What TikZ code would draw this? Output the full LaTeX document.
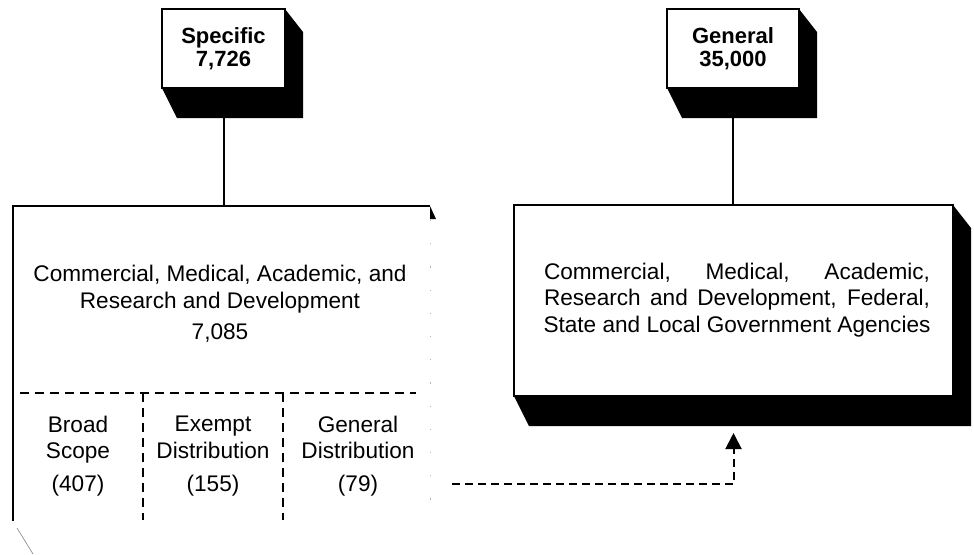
\documentclass[tikz,border=0pt]{standalone}
\usepackage{fontspec}
\setmainfont{Liberation Sans}
\usetikzlibrary{calc,arrows.meta}
% slanted black shade under a box
\newcommand{\dropshade}[1]{%
  \fill (#1.south west) -- ($(#1.south west)+(15,30)$) -- ($(#1.south east)+(18,30)$)
    -- ($(#1.north east)+(18,23)$) -- (#1.north east) -- (#1.south east) -- cycle;}
\begin{document}
\begin{tikzpicture}[x=0.5pt,y=-0.5pt,
  topbox/.style={draw,fill=white,line width=0.6pt,inner sep=0pt,outer sep=0pt,
    minimum width=61.5pt,minimum height=39.5pt,align=center,
    font=\fontsize{11}{11.5}\selectfont\bfseries},
  txt/.style={inner sep=0pt,align=center,font=\fontsize{11.3}{13.3}\selectfont},
  part/.style={dash pattern=on 4.5pt off 3pt,line width=1pt},
  flow/.style={dash pattern=on 4pt off 2.5pt,line width=1pt,-{Triangle[width=8pt,length=8pt]}}]
  \useasboundingbox (0,0) rectangle (974,554);
  % upper boxes
  \node[topbox] (specific) at (223.5,48.5) {Specific\\7,726};
  \node[topbox,minimum width=66pt] (general) at (733,48.5) {General\\35,000};
  % lower boxes
  \node[inner sep=0pt,outer sep=0pt,minimum width=208.5pt,minimum height=157.5pt] (spec) at (221.5,363.5) {};
  \node[draw,fill=white,line width=0.6pt,inner sep=0pt,outer sep=0pt,minimum width=219.5pt,minimum height=95.5pt] (big) at (733.5,300.5) {};
  % connectors
  \draw[line width=1pt] (specific.south) -- (specific.south |- spec.north);
  \draw[line width=1pt] (general.south) -- (general.south |- big.north);
  \dropshade{specific}
  \dropshade{general}
  \dropshade{big}
  % what is left of the specific box
  \draw[line width=0.6pt] (spec.south west) -- (spec.north west) -- (spec.north east);
  \fill (spec.north east) -- ++(6,13) -- ++(-6,0) -- cycle;
  \draw[gray!60,line width=0.5pt,dash pattern=on 0.6pt off 11pt] ($(spec.north east)+(0,14)$) -- (spec.south east);
  \draw[gray,line width=0.3pt] ($(spec.south west)+(4,7)$) -- ++(16,26);
  \draw[part] (20,393) -- (416,393);
  \draw[part] (143,393) -- (143,520);
  \draw[part] (283,393) -- (283,520);
  % texts
  \node[txt] (spectxt) at (220,304) {Commercial, Medical, Academic, and\\Research and Development\\[2.5pt]7,085};
  \node[txt] (broad) at (78,456) {Broad\\Scope\\[3pt](407)};
  \node[txt] (exempt) at (213,456) {Exempt\\Distribution\\[3pt](155)};
  \node[txt] (gdist) at (358,456) {General\\Distribution\\[3pt](79)};
  \node[txt] (gentxt) at (737,300) {\makebox[193pt][s]{Commercial, Medical, Academic,}\\
    \makebox[193pt][s]{Research and Development, Federal,}\\State and Local Government Agencies};
  % dashed link
  \coordinate (dstart) at (452,484);
  \draw[flow,shorten >=18.5pt] (dstart) -| (big.south);
\end{tikzpicture}
\end{document}
